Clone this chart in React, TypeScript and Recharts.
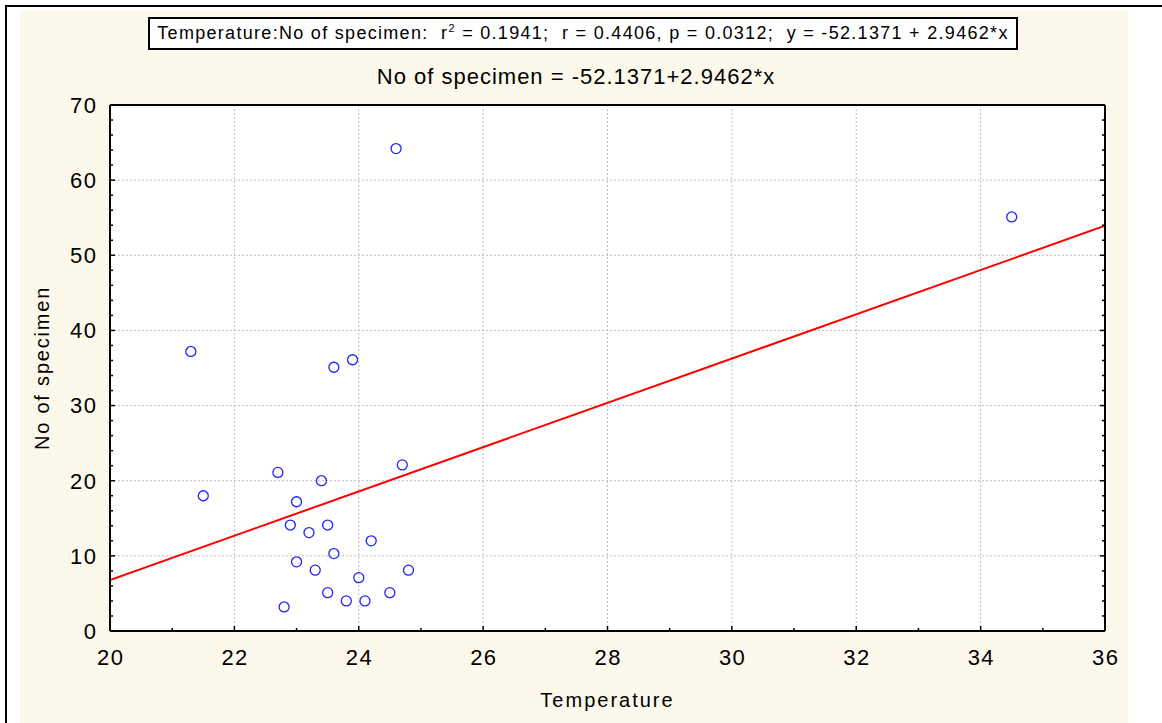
import React from 'react';
import { ComposedChart, Scatter, Line, XAxis, YAxis, CartesianGrid } from 'recharts';

// Observed data: Temperature (x) vs No of specimen (y)
const temperature = [21.3, 21.5, 22.7, 22.8, 22.9, 23.0, 23.0, 23.2, 23.3, 23.4, 23.5, 23.5, 23.6, 23.6, 23.8, 23.9, 24.0, 24.1, 24.2, 24.5, 24.6, 24.7, 24.8, 34.5];
const specimens = [37.2, 18.0, 21.1, 3.2, 14.1, 17.2, 9.2, 13.1, 8.1, 20.0, 5.1, 14.1, 35.1, 10.3, 4.0, 36.1, 7.1, 4.0, 12.0, 5.1, 64.2, 22.1, 8.1, 55.1];

// Regression line end points (y = -52.1371 + 2.9462*x)
const fitTemperature = [20, 36];
const fitSpecimens = [6.79, 53.93];

// Ticks
const xMajorTicks = [20, 22, 24, 26, 28, 30, 32, 34, 36];
const xAllTicks = [20, 21, 22, 23, 24, 25, 26, 27, 28, 29, 30, 31, 32, 33, 34, 35, 36];
const yMajorTicks = [0, 10, 20, 30, 40, 50, 60, 70];
const yAllTicks = [0, 2, 4, 6, 8, 10, 12, 14, 16, 18, 20, 22, 24, 26, 28, 30, 32, 34, 36, 38, 40, 42, 44, 46, 48, 50, 52, 54, 56, 58, 60, 62, 64, 66, 68, 70];

const boxText = 'Temperature:No of specimen:  r';
const boxTextRest = ' = 0.1941;  r = 0.4406, p = 0.0312;  y = -52.1371 + 2.9462*x';
const chartTitle = 'No of specimen = -52.1371+2.9462*x';
const xLabel = 'Temperature';
const yLabel = 'No of specimen';

const points = temperature.map((t, i) => ({ temp: t, count: specimens[i] }));
const fitData = fitTemperature.map((t, i) => ({ temp: t, fit: fitSpecimens[i] }));

const FONT = "'Liberation Sans', Arial, sans-serif";
const CREAM = '#fdf8ec';
const MAJOR_LEN = 5;
const MINOR_LEN = 3;
const TICK_STROKE = 1.5;

const isMajorX = (v: number) => xMajorTicks.indexOf(v) >= 0;
const isMajorY = (v: number) => yMajorTicks.indexOf(v) >= 0;

const labelStyle = { letterSpacing: '1.5px' };

const BottomTick = (props: any) => {
  const { x, y, payload } = props;
  const v = payload.value;
  const major = isMajorX(v);
  return (
    <g>
      <line x1={x} x2={x} y1={y} y2={y - (major ? MAJOR_LEN : MINOR_LEN)} stroke="#000" strokeWidth={TICK_STROKE} />
      {major && (
        <text x={x + 0.75} y={y + 18 + 15.8} textAnchor="middle" fontSize={22} fontFamily={FONT} fill="#000" style={labelStyle}>{v}</text>
      )}
    </g>
  );
};

const TopTick = (props: any) => {
  const { x, y, payload } = props;
  const major = isMajorX(payload.value);
  return <line x1={x} x2={x} y1={y} y2={y + (major ? MAJOR_LEN : MINOR_LEN)} stroke="#000" strokeWidth={TICK_STROKE} />;
};

const LeftTick = (props: any) => {
  const { x, y, payload } = props;
  const v = payload.value;
  const major = isMajorY(v);
  return (
    <g>
      <line x1={x} x2={x + (major ? MAJOR_LEN : MINOR_LEN)} y1={y} y2={y} stroke="#000" strokeWidth={TICK_STROKE} />
      {major && (
        <text x={x - 12.5} y={y + 7.9} textAnchor="end" fontSize={22} fontFamily={FONT} fill="#000" style={labelStyle}>{v}</text>
      )}
    </g>
  );
};

const RightTick = (props: any) => {
  const { x, y, payload } = props;
  const major = isMajorY(payload.value);
  return <line x1={x} x2={x - (major ? MAJOR_LEN : MINOR_LEN)} y1={y} y2={y} stroke="#000" strokeWidth={TICK_STROKE} />;
};

const Circle = (props: any) => {
  const { cx, cy } = props;
  if (cx == null || cy == null) return null;
  return <circle cx={cx} cy={cy} r={5} fill="none" stroke="#2222ff" strokeWidth={1.3} />;
};

const borderLine = { stroke: '#000', strokeWidth: 2 };

export default function App() {
  return (
    <div style={{ position: 'absolute', left: 0, top: 0, width: 1162, height: 723, background: '#fff', overflow: 'hidden', fontFamily: FONT }}>
      {/* outer frame lines */}
      <div style={{ position: 'absolute', left: 5, top: 5, width: 1157, height: 2, background: '#000' }} />
      <div style={{ position: 'absolute', left: 5, top: 5, width: 2, height: 718, background: '#000' }} />
      {/* cream panel */}
      <div style={{ position: 'absolute', left: 20, top: 10, width: 1108, height: 713, background: CREAM }} />

      {/* statistics box */}
      <div style={{ position: 'absolute', left: 148, top: 17, width: 870, height: 33, boxSizing: 'border-box', border: '2px solid #000', background: '#fff', display: 'flex', alignItems: 'center', justifyContent: 'center', fontSize: 18, letterSpacing: '1.3px', whiteSpace: 'pre', color: '#000' }}>
        <span>
          {boxText}
          <span style={{ fontSize: 11, position: 'relative', top: -7 }}>2</span>
          {boxTextRest}
        </span>
      </div>

      {/* chart title */}
      <div style={{ position: 'absolute', left: 0, width: 1152, top: 66, textAlign: 'center', fontSize: 22, lineHeight: '22px', letterSpacing: '1px', whiteSpace: 'pre', color: '#000' }}>
        {chartTitle}
      </div>

      {/* x axis label */}
      <div style={{ position: 'absolute', left: 110, width: 995, top: 690, textAlign: 'center', fontSize: 20, lineHeight: '20px', letterSpacing: '2px', whiteSpace: 'pre', color: '#000' }}>
        {xLabel}
      </div>

      {/* y axis label */}
      <div style={{ position: 'absolute', left: 42 - 100, top: 368 - 10, width: 200, height: 20, textAlign: 'center', fontSize: 20, lineHeight: '20px', letterSpacing: '1.8px', whiteSpace: 'pre', color: '#000', transform: 'rotate(-90deg)', transformOrigin: '50% 50%' }}>
        {yLabel}
      </div>

      <div style={{ position: 'absolute', left: 0, top: 0 }}>
        <ComposedChart width={1162} height={723} margin={{ top: 0, right: 0, bottom: 0, left: 0 }}>
          <CartesianGrid xAxisId={0} yAxisId={0} stroke="#bdbdbd" strokeDasharray="2 2" fill="#ffffff" fillOpacity={1}
            verticalValues={xMajorTicks} horizontalValues={yMajorTicks} />

          <XAxis xAxisId={0} type="number" dataKey="temp" domain={[20, 36]} allowDataOverflow ticks={xAllTicks} interval={0}
            orientation="bottom" height={92} tickSize={0} tickMargin={0} tickLine={false} axisLine={borderLine} tick={BottomTick} />
          <XAxis xAxisId="top" type="number" domain={[20, 36]} allowDataOverflow ticks={xAllTicks} interval={0}
            orientation="top" height={105} tickSize={0} tickMargin={0} tickLine={false} axisLine={borderLine} tick={TopTick} />
          <YAxis yAxisId={0} type="number" domain={[0, 70]} allowDataOverflow ticks={yAllTicks} interval={0}
            orientation="left" width={110} tickSize={0} tickMargin={0} tickLine={false} axisLine={borderLine} tick={LeftTick} />
          <YAxis yAxisId="right" type="number" domain={[0, 70]} allowDataOverflow ticks={yAllTicks} interval={0}
            orientation="right" width={57} tickSize={0} tickMargin={0} tickLine={false} axisLine={borderLine} tick={RightTick} />

          <Line xAxisId={0} yAxisId={0} data={fitData} dataKey="fit" type="linear" stroke="#ff0000" strokeWidth={2} dot={false} activeDot={false} isAnimationActive={false} />
          <Scatter xAxisId={0} yAxisId={0} data={points} dataKey="count" shape={Circle} isAnimationActive={false} />
        </ComposedChart>
      </div>
    </div>
  );
}
